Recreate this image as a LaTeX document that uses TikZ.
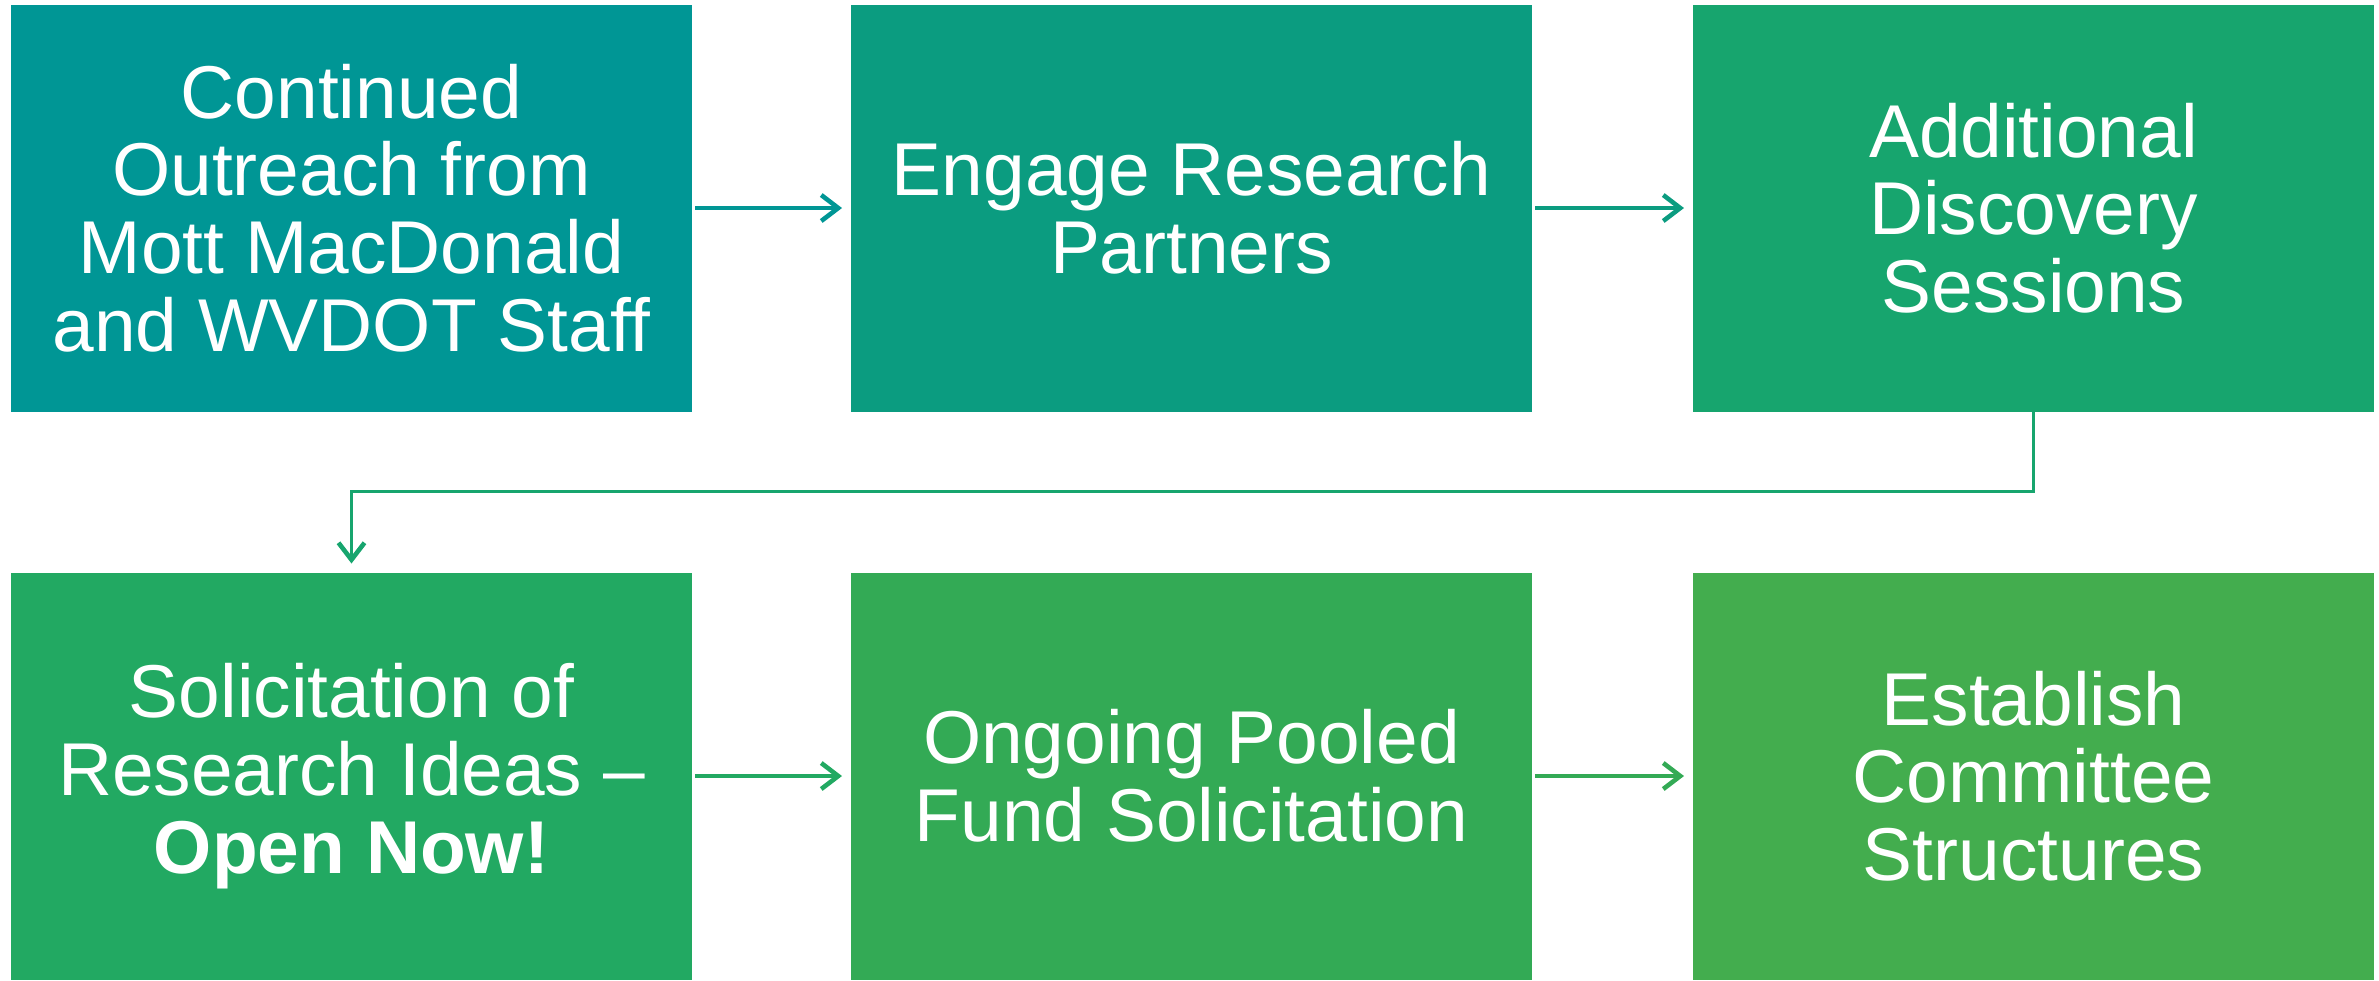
\documentclass[tikz,border=0pt]{standalone}
\usepackage{fontspec}
\setmainfont{Liberation Sans}
\usetikzlibrary{positioning,arrows.meta}
\tikzset {>={Straight Barb[length=1.7mm,width=2.6mm,line width=1.3pt]}}

\definecolor{stepA}{HTML}{009695}
\definecolor{stepB}{HTML}{0B9C80}
\definecolor{stepC}{HTML}{17A56E}
\definecolor{stepD}{HTML}{22A962}
\definecolor{stepE}{HTML}{33AA55}
\definecolor{stepF}{HTML}{43AD4E}

\begin{document}
\begin{tikzpicture}[
  stepbox/.style={minimum width=6.81cm, minimum height=4.07cm, inner sep=0pt,
    outer sep=0pt, text=white, align=center,
    font=\fontsize{21.3}{22.1}\selectfont},
  link/.style={->, line width=1pt, shorten <=0.03cm, shorten >=0.09cm}]

\useasboundingbox (0,0) rectangle (23.79,-9.80);

% Top row
\node [stepbox,fill=stepA] (outreach) at (3.515,-2.08)
  {Continued\\Outreach from\\Mott MacDonald\\and WVDOT Staff};
\node [stepbox,fill=stepB,right=1.59cm of outreach] (engage)
  {Engage Research\\Partners};
\node [stepbox,fill=stepC,right=1.61cm of engage] (discovery)
  {Additional\\Discovery\\Sessions};

% Bottom row
\node [stepbox,fill=stepD,below=1.61cm of outreach] (ideas)
  {Solicitation of\\Research Ideas --\\\textbf{Open Now!}};
\node [stepbox,fill=stepE,right=1.59cm of ideas] (pooled)
  {Ongoing Pooled\\Fund Solicitation};
\node [stepbox,fill=stepF,right=1.61cm of pooled] (committee)
  {Establish\\Committee\\Structures};

% Connectors
\draw [link,stepA] (outreach) -- (engage);
\draw [link,stepB] (engage) -- (discovery);
\draw [link,stepC,shorten <=0pt] (discovery.south) -- ++(0,-0.8) -| (ideas.north);
\draw [link,stepD] (ideas) -- (pooled);
\draw [link,stepE] (pooled) -- (committee);
\end{tikzpicture}
\end{document}
